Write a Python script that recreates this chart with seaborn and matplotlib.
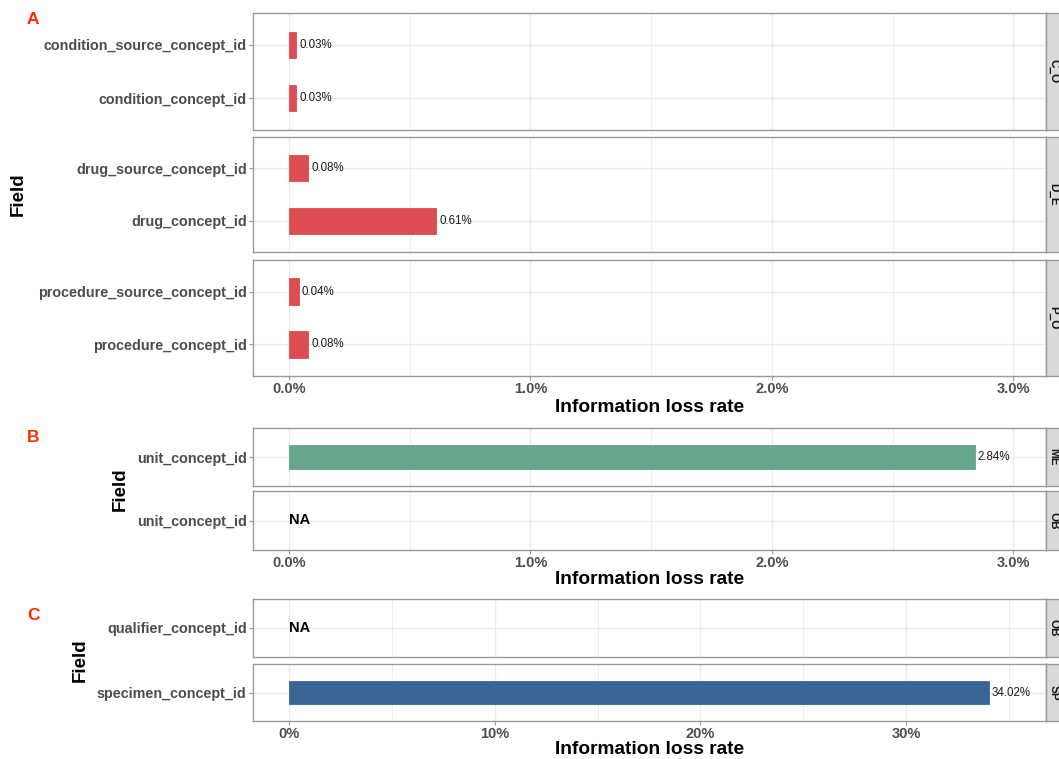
import numpy as np
import pandas as pd
import matplotlib
matplotlib.use("Agg")
import matplotlib.pyplot as plt
from matplotlib.ticker import FuncFormatter, FixedLocator
import seaborn as sns

sns.set_theme(style="white")
plt.rcParams['font.family'] = ['Liberation Sans', 'DejaVu Sans']

# ---------------- data ----------------
# Panel A
a_groups = ["C_O", "D_E", "P_O"]
a_fields = [["condition_source_concept_id", "condition_concept_id"],
            ["drug_source_concept_id", "drug_concept_id"],
            ["procedure_source_concept_id", "procedure_concept_id"]]
a_values = [[0.03, 0.03], [0.08, 0.61], [0.04, 0.08]]
# Panel B
b_groups = ["ME", "OB"]
b_fields = [["unit_concept_id"], ["unit_concept_id"]]
b_values = [[2.84], [np.nan]]
# Panel C
c_groups = ["OB", "SP"]
c_fields = [["qualifier_concept_id"], ["specimen_concept_id"]]
c_values = [[np.nan], [34.02]]

a_ticks = [0, 1, 2, 3]
c_ticks = [0, 10, 20, 30]

colors = {"A": "#DC4C51", "B": "#68A68C", "C": "#3A6696"}

W, H = 1059, 759
fig = plt.figure(figsize=(W / 100, H / 100), dpi=100)

def rect(x0, y0, x1, y1):
    return [x0 / W, 1 - y1 / H, (x1 - x0) / W, (y1 - y0) / H]

GRID = "#EBEBEB"
BORDER = "#9A9A9A"
TICKC = "#4D4D4D"

def draw_facet(box, fields, values, group, color, xlim, ticks, minor, show_x, fmt):
    ax = fig.add_axes(rect(*box))
    df = pd.DataFrame({"field": fields, "value": values})
    sns.barplot(data=df, x="value", y="field", orient="h", ax=ax,
                color=color, width=0.5, saturation=1, edgecolor=color, linewidth=0.6)
    n = len(fields)
    ax.set_ylim(n - 1 + 0.6, -0.6)
    ax.set_xlim(*xlim)
    ax.xaxis.set_major_locator(FixedLocator(ticks))
    ax.xaxis.set_minor_locator(FixedLocator(minor))
    ax.xaxis.set_major_formatter(FuncFormatter(fmt))
    ax.set_axisbelow(True)
    ax.grid(True, which="major", color=GRID, lw=1.0)
    ax.grid(True, which="minor", axis="x", color=GRID, lw=0.6)
    ax.set_facecolor("white")
    for s in ax.spines.values():
        s.set_color(BORDER)
        s.set_linewidth(1.0)
        s.set_visible(True)
    ax.set_xlabel("")
    ax.set_ylabel("")
    ax.tick_params(axis="both", which="major", length=3, width=0.8, color=BORDER,
                   labelcolor=TICKC, pad=1.5, left=True, bottom=True)
    ax.tick_params(axis="y", labelsize=10.4)
    ax.tick_params(axis="x", labelsize=10.5)
    ax.tick_params(axis="x", which="minor", length=0)
    for lab in ax.get_yticklabels():
        lab.set_fontweight("bold")
    if show_x:
        for lab in ax.get_xticklabels():
            lab.set_fontweight("bold")
    else:
        ax.tick_params(axis="x", labelbottom=False, bottom=False)
    for i, v in enumerate(values):
        if np.isnan(v):
            ax.text(0, i, "NA", ha="left", va="center", fontsize=10.5,
                    fontweight="bold", color="black")
        else:
            ax.text(v + (xlim[1] - xlim[0]) * 0.004, i, f"{v:.2f}%", ha="left",
                    va="center", fontsize=8.3, color="#1A1A1A")
    # strip on right
    sx = fig.add_axes(rect(box[2], box[1], box[2] + 26, box[3]))
    sx.set_facecolor("#D9D9D9")
    sx.set_xticks([]); sx.set_yticks([])
    for s in sx.spines.values():
        s.set_color(BORDER); s.set_linewidth(1.0)
    sx.text(7.5 / 26, 0.5, group, rotation=-90, ha="center", va="center",
            fontsize=8.5, fontweight="bold", color="#1A1A1A", transform=sx.transAxes)
    return ax

pct1 = lambda v, p: f"{v:.1f}%"
pct0 = lambda v, p: f"{v:.0f}%"

XL, XR = 253, 1046
a_xlim = (-0.149, 3.135)
a_minor = [0.5, 1.5, 2.5]
c_xlim = (-1.75, 36.8)
c_minor = [5, 15, 25, 35]

a_boxes = [(XL, 13, XR, 130), (XL, 137, XR, 252), (XL, 260, XR, 376)]
for i, (g, f, v) in enumerate(zip(a_groups, a_fields, a_values)):
    draw_facet(a_boxes[i], f, v, g, colors["A"], a_xlim, a_ticks, a_minor, i == 2, pct1)

b_boxes = [(XL, 428, XR, 486), (XL, 491, XR, 550)]
for i, (g, f, v) in enumerate(zip(b_groups, b_fields, b_values)):
    draw_facet(b_boxes[i], f, v, g, colors["B"], a_xlim, a_ticks, a_minor, i == 1, pct1)

c_boxes = [(XL, 599, XR, 657), (XL, 664, XR, 721)]
for i, (g, f, v) in enumerate(zip(c_groups, c_fields, c_values)):
    draw_facet(c_boxes[i], f, v, g, colors["C"], c_xlim, c_ticks, c_minor, i == 1, pct0)

def ftext(x, y, s, **kw):
    fig.text(x / W, 1 - y / H, s, **kw)

xc = (XL + XR) / 2
for yy in (407, 580, 749):
    ftext(xc, yy, "Information loss rate", ha="center", va="center",
          fontsize=13.8, fontweight="bold", color="black")

for xx, yy in ((18, 194), (120, 489), (80, 660)):
    ftext(xx, yy, "Field", rotation=90, ha="center", va="center",
          fontsize=13.5, fontweight="bold", color="black")

red = "#FF2A00"
ftext(33, 20, "A", ha="center", va="center", fontsize=12.5, fontweight="bold", color=red)
ftext(33, 437, "B", ha="center", va="center", fontsize=12.5, fontweight="bold", color=red)
ftext(33, 615, "C", ha="center", va="center", fontsize=12.5, fontweight="bold", color=red)

fig.savefig("out.png", dpi=100)
